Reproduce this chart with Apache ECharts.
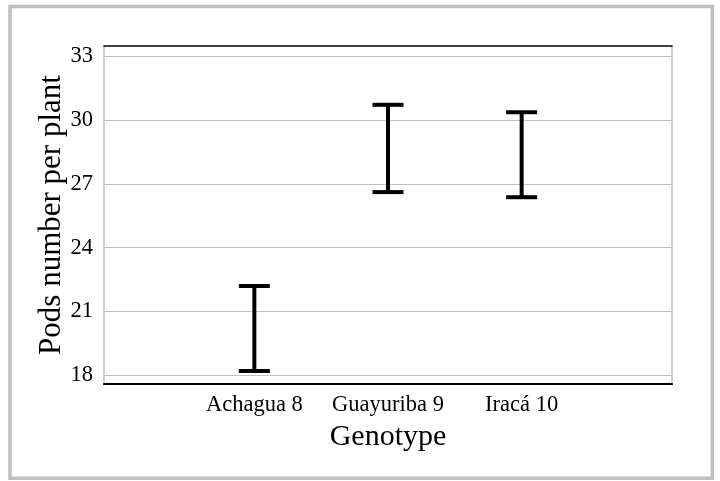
<!DOCTYPE html>
<html>
<head>
<meta charset="utf-8">
<script src="https://cdn.jsdelivr.net/npm/echarts@6/dist/echarts.min.js"></script>
<style>
html,body{margin:0;padding:0;background:#fff;}
#c{width:720px;height:481px;}
</style>
</head>
<body>
<div id="c"></div>
<script>
var categories = ['Achagua 8', 'Guayuriba 9', 'Iracá 10'];
var lowerValues = [18.21, 26.61, 26.37];
var upperValues = [22.20, 30.71, 30.36];
var yTickValues = [18, 21, 24, 27, 30, 33];

var FONT = '"Liberation Serif", "DejaVu Serif", serif';
var chart = echarts.init(document.getElementById('c'), null, {renderer: 'canvas'});

var errData = categories.map(function (c, i) { return [i, lowerValues[i], upperValues[i]]; });

chart.setOption({
  animation: false,
  backgroundColor: '#fff',
  graphic: [{
    type: 'rect',
    shape: {x: 10, y: 6.5, width: 702.3, height: 471.8},
    style: {fill: 'none', stroke: '#c0c0c0', lineWidth: 3.5},
    silent: true
  }],
  grid: {left: 104, right: 48, top: 46, bottom: 97, containLabel: false},
  xAxis: [{
    type: 'value',
    min: -1.125,
    max: 3.125,
    position: 'bottom',
    axisLine: {show: true, onZero: false, lineStyle: {color: '#000', width: 2}},
    axisTick: {show: false},
    splitLine: {show: false},
    axisLabel: {
      customValues: [0, 1, 2],
      formatter: function (v) { return categories[Math.round(v)] || ''; },
      fontFamily: FONT, fontSize: 22.5, color: '#000', margin: 10
    },
    name: 'Genotype',
    nameLocation: 'middle',
    nameGap: 34,
    nameTextStyle: {fontFamily: FONT, fontSize: 30, color: '#000'}
  }, {
    type: 'value',
    min: -1.125,
    max: 3.125,
    position: 'top',
    axisLine: {show: true, onZero: false, lineStyle: {color: '#000', width: 1.5}},
    axisTick: {show: false},
    axisLabel: {show: false},
    splitLine: {show: false}
  }],
  yAxis: [{
    type: 'value',
    min: 17.6,
    max: 33.47,
    position: 'left',
    axisLine: {show: true, onZero: false, lineStyle: {color: '#c0c0c0', width: 1.5}},
    axisTick: {show: false, customValues: yTickValues},
    axisLabel: {
      customValues: yTickValues,
      fontFamily: FONT, fontSize: 22.5, color: '#000', margin: 11
    },
    splitLine: {show: true, lineStyle: {color: '#c0c0c0', width: 1}},
    name: 'Pods number per plant',
    nameLocation: 'middle',
    nameMoveOverlap: false,
    nameGap: 37,
    nameTextStyle: {fontFamily: FONT, fontSize: 31, color: '#000'}
  }, {
    type: 'value',
    min: 17.6,
    max: 33.47,
    position: 'right',
    axisLine: {show: true, onZero: false, lineStyle: {color: '#c0c0c0', width: 1.5}},
    axisTick: {show: false},
    axisLabel: {show: false},
    splitLine: {show: false}
  }],
  series: [{
    type: 'custom',
    xAxisIndex: 0,
    yAxisIndex: 0,
    data: errData,
    renderItem: function (params, api) {
      var x = api.value(0);
      var lo = api.coord([x, api.value(1)]);
      var hi = api.coord([x, api.value(2)]);
      var hw = 15.5;
      var st = {stroke: '#000', lineWidth: 4, fill: 'none'};
      return {
        type: 'group',
        children: [
          {type: 'line', shape: {x1: lo[0], y1: lo[1], x2: hi[0], y2: hi[1]}, style: st},
          {type: 'line', shape: {x1: lo[0] - hw, y1: lo[1], x2: lo[0] + hw, y2: lo[1]}, style: st},
          {type: 'line', shape: {x1: hi[0] - hw, y1: hi[1], x2: hi[0] + hw, y2: hi[1]}, style: st}
        ]
      };
    }
  }]
});
</script>
</body>
</html>
